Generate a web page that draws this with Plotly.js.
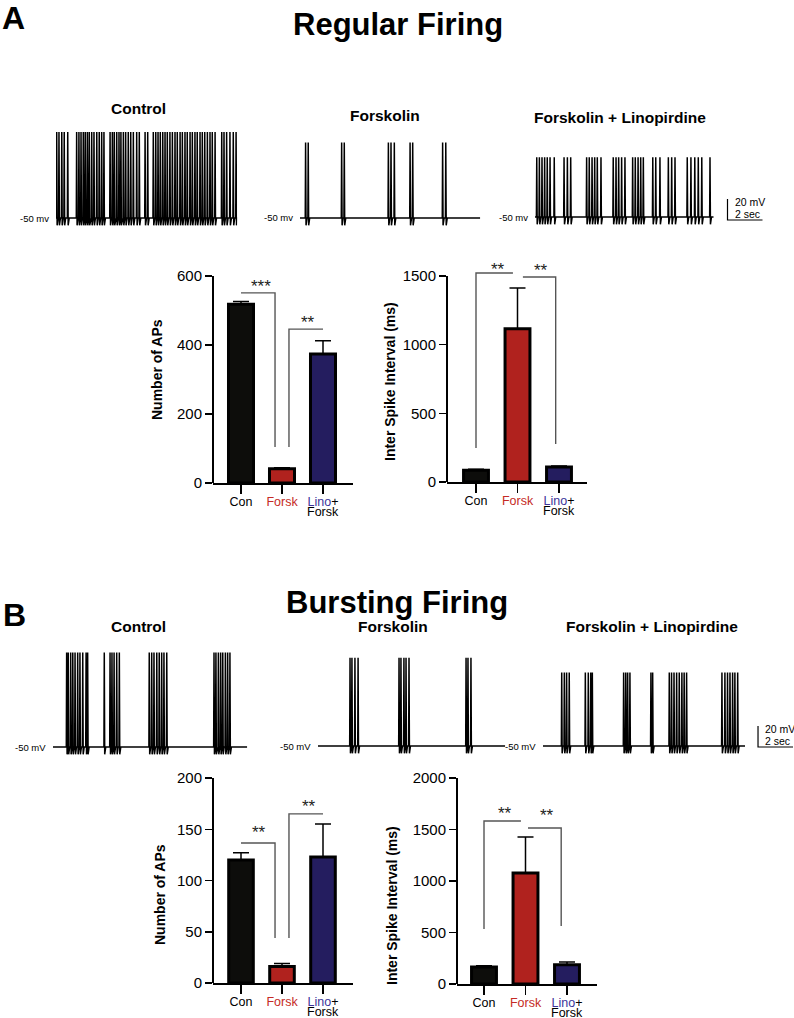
<!DOCTYPE html>
<html><head><meta charset="utf-8">
<script src="https://cdn.plot.ly/plotly-3.0.1.min.js"></script>
<style>html,body{margin:0;padding:0;background:#fff;}#chart{width:794px;height:1018px;}</style>
</head><body><div id="chart"></div>
<script>
// ===== DATA =====
const categories = ['Con', 'Forsk', 'Lino+Forsk'];
const tickLabels = ['Con', '<span style="color:#c52b25">Forsk</span>', '<span style="color:#3b349a">Lino</span>+'];
const tickLabelsLine2 = ['', '', 'Forsk'];
const barColors = ['#0d0d0b', '#b0221e', '#241d5f'];

// Regular firing (panel A)
const apsRegular = [518, 41, 374];
const apsRegularSem = [8, 3, 38];
const isiRegular = [86, 1115, 110];
const isiRegularSem = [6, 298, 7];
// Bursting firing (panel B)
const apsBursting = [120, 16, 123];
const apsBurstingSem = [7, 3, 32];
const isiBursting = [166, 1078, 186];
const isiBurstingSem = [10, 350, 28];

// Example recordings: spike times (s)
const spkRegCon = [0.04,0.17,0.33,0.47,0.67,1.18,1.31,1.43,1.56,1.67,1.79,1.90,2.04,2.17,2.33,2.47,2.61,2.74,3.09,3.22,3.33,3.47,3.60,3.71,3.85,3.98,4.13,4.27,4.42,4.61,4.76,5.09,5.24,5.56,5.70,5.83,5.96,6.10,6.23,6.36,6.51,6.65,6.80,6.93,7.09,7.22,7.37,7.50,7.66,7.79,7.94,8.07,8.23,8.36,8.50,8.65,8.80,8.93,9.09,9.47,9.60,9.75,9.94,10.13,10.29];
const spkRegForsk = [0.32,0.47,2.38,2.53,5.05,5.20,5.39,6.29,6.44,8.15,8.33];
const spkRegLino = [0.10,0.25,0.40,0.55,0.70,0.86,1.10,1.66,1.85,2.04,2.95,3.10,3.26,3.41,3.56,3.77,4.47,4.63,4.78,4.95,5.14,5.58,5.73,5.89,6.04,6.19,6.73,6.90,7.14,7.62,7.81,8.00,8.70,8.91,9.13,9.33,9.53,10.00];
const spkBurCon = [0.78,0.87,1.01,1.13,1.26,1.41,1.54,1.70,1.89,1.98,2.93,3.26,3.37,3.49,3.64,3.79,5.50,5.64,5.77,5.93,6.07,6.21,6.34,6.50,9.20,9.31,9.45,9.58,9.70,9.85,9.98,10.11];
const spkBurForsk = [1.83,1.94,2.11,2.29,4.63,4.74,4.91,5.03,5.20,8.46,8.57,8.74];
const spkBurLino = [1.07,1.22,1.35,1.50,2.42,2.59,2.73,2.82,4.61,4.73,4.84,4.97,6.17,6.27,7.22,7.35,7.49,7.64,7.79,7.94,8.07,8.21,10.23,10.40,10.55,10.69,10.84,10.97,11.13];
const durRegular = [10.35, 10.3, 10.2];
const durBursting = [11.1, 10.7, 11.55];
const peakRegular = [32, 22, 7];      // mV
const peakBursting = [40, 34, 20];    // mV
const restMv = -50, ahpMv = -57;
const scaleMv = 20, scaleSec = 2;

// ===== BUILD =====
const W = 794, H = 1018;
const FONT = 'Liberation Sans, Arial, Helvetica, sans-serif';
const XS = 17.5, YS = 1.05; // px per s, px per mV
const data = [], annotations = [], shapes = [];
const layout = {
  width: W, height: H, margin: {l: 0, r: 0, t: 0, b: 0},
  paper_bgcolor: '#fff', plot_bgcolor: 'rgba(0,0,0,0)', showlegend: false,
  font: {family: FONT, color: '#000'}, annotations, shapes
};
const ax = n => (n === 1 ? '' : String(n));
function pann(text, xpx, ypx, size, bold, extra) {
  annotations.push(Object.assign({xref: 'paper', yref: 'paper', x: xpx / W, y: 1 - ypx / H,
    xanchor: 'center', yanchor: 'middle', showarrow: false,
    text: bold ? '<b>' + text + '</b>' : text, font: {family: FONT, size: size, color: '#000'}}, extra || {}));
}
function spikeTrain(times, dur, peak) {
  const x = [0], y = [restMv];
  times.forEach(t => { x.push(t - 0.02, t, t + 0.025, t + 0.085); y.push(restMv, peak, ahpMv, restMv); });
  x.push(dur); y.push(restMv);
  return {x, y};
}

const recs = [
  {t: spkRegCon, dur: durRegular[0], peak: peakRegular[0], x0: 56, base: 218, lab: '-50 mv'},
  {t: spkRegForsk, dur: durRegular[1], peak: peakRegular[1], x0: 300, base: 218, lab: '-50 mv'},
  {t: spkRegLino, dur: durRegular[2], peak: peakRegular[2], x0: 535, base: 217, lab: '-50 mv', scale: {gap: 14, extra: 60, dy: 3}},
  {t: spkBurCon, dur: durBursting[0], peak: peakBursting[0], x0: 53, base: 747, lab: '-50 mV'},
  {t: spkBurForsk, dur: durBursting[1], peak: peakBursting[1], x0: 318, base: 746, lab: '-50 mV'},
  {t: spkBurLino, dur: durBursting[2], peak: peakBursting[2], x0: 543, base: 746, lab: '-50 mV', scale: {gap: 13, extra: 49, dy: 1}}
];
recs.forEach((r, i) => {
  const n = i + 1;
  const extra = r.scale ? r.scale.extra : 0;
  const rightPx = r.x0 + r.dur * XS + extra;
  const topPx = r.base - (r.peak - restMv) * YS - 4, botPx = r.base + 14;
  layout['xaxis' + ax(n)] = {domain: [r.x0 / W, Math.min(1, rightPx / W)], range: [0, r.dur + extra / XS],
    visible: false, anchor: 'y' + ax(n), fixedrange: true};
  layout['yaxis' + ax(n)] = {domain: [1 - botPx / H, 1 - topPx / H],
    range: [restMv - 14 / YS, restMv + (r.base - topPx) / YS], visible: false, anchor: 'x' + ax(n), fixedrange: true};
  const tr = spikeTrain(r.t, r.dur, r.peak);
  data.push({type: 'scatter', mode: 'lines', x: tr.x, y: tr.y, xaxis: 'x' + ax(n), yaxis: 'y' + ax(n),
    line: {color: '#000', width: 1.5}, hoverinfo: 'skip'});
  annotations.push({xref: 'x' + ax(n), yref: 'y' + ax(n), x: 0, y: restMv, xanchor: 'right', yanchor: 'middle',
    xshift: -5, showarrow: false, text: r.lab, font: {family: FONT, size: 9.5, color: '#000'}});
  if (r.scale) {
    const xs = r.dur + r.scale.gap / XS;
    const yb = restMv - r.scale.dy / YS;
    data.push({type: 'scatter', mode: 'lines', x: [xs, xs, xs + scaleSec], y: [yb + scaleMv, yb, yb],
      xaxis: 'x' + ax(n), yaxis: 'y' + ax(n), line: {color: '#000', width: 1.2}, hoverinfo: 'skip'});
    annotations.push({xref: 'x' + ax(n), yref: 'y' + ax(n), x: xs + 5 / XS, y: yb + 17, xanchor: 'left', yanchor: 'middle',
      showarrow: false, text: scaleMv + ' mV', font: {family: FONT, size: 10.5, color: '#000'}});
    annotations.push({xref: 'x' + ax(n), yref: 'y' + ax(n), x: xs + 5 / XS, y: yb + 6, xanchor: 'left', yanchor: 'middle',
      showarrow: false, text: scaleSec + ' sec', font: {family: FONT, size: 10.5, color: '#000'}});
  }
});

const barPanels = [
  {vals: apsRegular, sem: apsRegularSem, yAxisPx: 213, rightPx: 353, c0: 241, sp: 41, zeroPx: 483, topPx: 276, top: 600, dtick: 200, rmax: 600, wid: 0.61,
   title: 'Number of APs', tx: 157, ty: 370,
   brackets: [[[0, 551], [0.83, 551], [0.83, 104]], [[1.17, 104], [1.17, 446], [2, 446]]],
   stars: [['***', 0.49, 580], ['**', 1.63, 478]]},
  {vals: isiRegular, sem: isiRegularSem, yAxisPx: 447, rightPx: 587, c0: 476, sp: 41.5, zeroPx: 482, topPx: 276, top: 1500, dtick: 500, rmax: 1620, wid: 0.6,
   title: 'Inter Spike Interval (ms)', tx: 390, ty: 382,
   brackets: [[[0, 248], [0, 1522], [0.89, 1522]], [[1.13, 1493], [1.92, 1493], [1.92, 277]]],
   stars: [['**', 0.53, 1580], ['**', 1.57, 1566]]},
  {vals: apsBursting, sem: apsBurstingSem, yAxisPx: 213, rightPx: 353, c0: 241, sp: 41, zeroPx: 983, topPx: 778, top: 200, dtick: 50, rmax: 200, wid: 0.6,
   title: 'Number of APs', tx: 160, ty: 895,
   brackets: [[[0, 136.6], [0.83, 136.6], [0.83, 44]], [[1.17, 44], [1.17, 165], [2, 165]]],
   stars: [['**', 0.44, 151], ['**', 1.66, 176]]},
  {vals: isiBursting, sem: isiBurstingSem, yAxisPx: 457, rightPx: 597, c0: 484, sp: 41.5, zeroPx: 984, topPx: 778, top: 2000, dtick: 500, rmax: 2000, wid: 0.6,
   title: 'Inter Spike Interval (ms)', tx: 392, ty: 906,
   brackets: [[[0, 534], [0, 1583], [0.89, 1583]], [[1.06, 1515], [1.86, 1515], [1.86, 563]]],
   stars: [['**', 0.51, 1699], ['**', 1.52, 1670]]}
];
barPanels.forEach((p, i) => {
  const n = 7 + i, xa = 'x' + ax(n), ya = 'y' + ax(n);
  const ppu = (p.zeroPx - p.topPx) / p.top;
  const domTopPx = p.zeroPx - p.rmax * ppu;
  layout['xaxis' + ax(n)] = {domain: [p.yAxisPx / W, p.rightPx / W],
    range: [(p.yAxisPx - p.c0) / p.sp, (p.rightPx - p.c0) / p.sp],
    tickmode: 'array', tickvals: [0, 1, 2], ticktext: tickLabels, tickangle: 0,
    showline: true, linewidth: 2, linecolor: '#000', ticks: 'outside', ticklen: 9, tickwidth: 1.5, tickcolor: '#000',
    ticklabelstandoff: -3,
    tickfont: {family: FONT, size: 12.5, color: '#000'}, showgrid: false, zeroline: false, anchor: ya, fixedrange: true};
  layout['yaxis' + ax(n)] = {domain: [1 - p.zeroPx / H, 1 - domTopPx / H], range: [0, p.rmax],
    tick0: 0, dtick: p.dtick, ticks: 'outside', ticklen: 7, tickwidth: 1.5, tickcolor: '#000',
    showline: false, tickfont: {family: FONT, size: 15, color: '#000'}, showgrid: false, zeroline: false,
    anchor: xa, fixedrange: true};
  shapes.push({type: 'line', xref: xa + ' domain', yref: ya, x0: 0, x1: 0, y0: 0, y1: p.top,
    line: {color: '#000', width: 2}});
  data.push({type: 'bar', x: [0, 1, 2], y: p.vals, width: p.wid, xaxis: xa, yaxis: ya,
    marker: {color: barColors, line: {color: '#000', width: 3}},
    error_y: {type: 'data', symmetric: false, array: p.sem, arrayminus: [0, 0, 0], color: '#000', thickness: 1.5, width: 8},
    hoverinfo: 'skip'});
  tickLabelsLine2.forEach((t, k) => {
    if (!t) return;
    annotations.push({xref: xa, yref: 'paper', x: k, y: 1 - (p.zeroPx + 29) / H, xanchor: 'center', yanchor: 'middle',
      showarrow: false, text: t, font: {family: FONT, size: 12.5, color: '#000'}});
  });
  p.brackets.forEach(b => {
    const d = b.map((pt, k) => (k === 0 ? 'M' : 'L') + pt[0] + ',' + pt[1]).join(' ');
    shapes.push({type: 'path', xref: xa, yref: ya, path: d, line: {color: '#555', width: 1.4}});
  });
  p.stars.forEach(s => {
    annotations.push({xref: xa, yref: ya, x: s[1], y: s[2], xanchor: 'center', yanchor: 'middle', yshift: -4,
      showarrow: false, text: s[0], font: {family: FONT, size: 17, color: '#222'}});
  });
  pann(p.title, p.tx, p.ty, 14, true, {textangle: -90});
});

// headings
pann('A', 13, 18, 32, true);
pann('B', 14, 615, 32, true);
pann('Regular Firing', 398, 24, 31, true);
pann('Bursting Firing', 397, 602, 31, true);
pann('Control', 138, 108, 15.5, true);
pann('Forskolin', 385, 116, 15.5, true);
pann('Forskolin + Linopirdine', 620, 117, 15.5, true);
pann('Control', 138, 626, 15.5, true);
pann('Forskolin', 393, 626, 15.5, true);
pann('Forskolin + Linopirdine', 652, 626, 15.5, true);

Plotly.newPlot('chart', data, layout, {displayModeBar: false, staticPlot: true});
</script></body></html>
